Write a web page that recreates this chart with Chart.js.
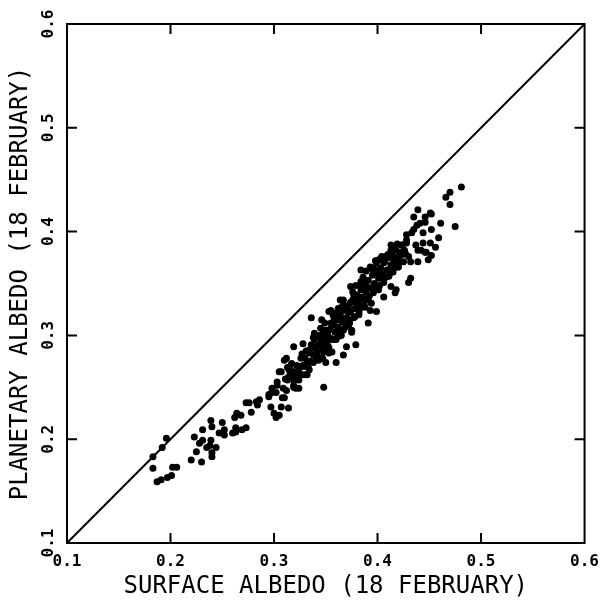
<!DOCTYPE html>
<html>
<head>
<meta charset="utf-8">
<script src="https://cdn.jsdelivr.net/npm/chart.js@4.4.0/dist/chart.umd.min.js"></script>
<style>
  html, body { margin: 0; padding: 0; background: #fff; }
  #wrap { width: 608px; height: 603px; }
</style>
</head>
<body>
<div id="wrap"><canvas id="albedoChart"></canvas></div>
<script>
// Scatter data
const surfaceAlbedo = [
  0.183, 0.183, 0.192, 0.196, 0.187, 0.191, 0.197, 0.202, 0.206, 0.220,
  0.225, 0.228, 0.231, 0.230, 0.235, 0.238, 0.240, 0.244, 0.247, 0.252,
  0.260, 0.263, 0.269, 0.223, 0.240, 0.201,
  0.231, 0.239, 0.239, 0.240, 0.250, 0.252, 0.262, 0.263, 0.268, 0.273,
  0.276, 0.284, 0.278, 0.286, 0.295, 0.297, 0.300, 0.302, 0.307, 0.310,
  0.312, 0.314, 0.303, 0.298, 0.319,
  0.264, 0.273, 0.283, 0.295, 0.298, 0.305, 0.312, 0.314, 0.319, 0.317,
  0.319, 0.321, 0.305,
  0.308, 0.303, 0.307, 0.310, 0.313, 0.319, 0.324, 0.326, 0.329, 0.332,
  0.334, 0.336, 0.338, 0.340, 0.343, 0.348, 0.350, 0.348, 0.345, 0.355,
  0.353, 0.360, 0.356, 0.362, 0.365, 0.370, 0.379, 0.372, 0.367, 0.353,
  0.375, 0.382, 0.388, 0.360, 0.326, 0.302,
  0.346, 0.350, 0.355, 0.361, 0.364, 0.369, 0.374, 0.379, 0.384, 0.385,
  0.388, 0.391, 0.393, 0.396, 0.399, 0.403, 0.406, 0.408, 0.413, 0.413,
  0.418, 0.413, 0.422, 0.423, 0.430, 0.428, 0.435, 0.438, 0.439, 0.446,
  0.444, 0.430, 0.375, 0.372, 0.362, 0.394, 0.401, 0.385, 0.417,
  0.393, 0.401, 0.406, 0.413, 0.420, 0.428, 0.427, 0.433, 0.437, 0.439,
  0.435, 0.441, 0.442, 0.446, 0.444, 0.449, 0.451, 0.452, 0.451, 0.456,
  0.461, 0.459, 0.470, 0.466, 0.470, 0.481, 0.475, 0.432, 0.439, 0.447,
  0.432, 0.446, 0.452, 0.399, 0.417, 0.452,
  0.324, 0.328, 0.330, 0.332, 0.334, 0.336, 0.338, 0.339, 0.341, 0.343,
  0.345, 0.347, 0.349, 0.351, 0.353, 0.355, 0.357, 0.359, 0.361, 0.362,
  0.364, 0.366, 0.368, 0.370, 0.372, 0.374, 0.376, 0.378, 0.380, 0.382,
  0.384, 0.386, 0.388, 0.389, 0.391, 0.393, 0.395, 0.397, 0.399, 0.401,
  0.403, 0.405, 0.407, 0.409, 0.411, 0.413, 0.414, 0.416, 0.418, 0.420,
  0.422, 0.424, 0.426, 0.428,
  0.329, 0.338, 0.348, 0.358, 0.367, 0.377, 0.387, 0.396, 0.406, 0.415,
  0.425, 0.338, 0.348, 0.358, 0.367, 0.377, 0.387, 0.396, 0.406, 0.415,
  0.322, 0.334, 0.343, 0.353, 0.362, 0.372, 0.382, 0.391, 0.401, 0.411,
  0.420, 0.316, 0.313, 0.320, 0.309, 0.324,
  0.331, 0.335, 0.339, 0.342, 0.344, 0.347, 0.349, 0.352, 0.354, 0.356,
  0.358, 0.360, 0.363, 0.365, 0.367, 0.369, 0.371, 0.373, 0.376, 0.378,
  0.381, 0.383, 0.386, 0.388, 0.390, 0.392, 0.395, 0.397, 0.400, 0.402,
  0.404, 0.408, 0.410, 0.412, 0.416, 0.419, 0.424, 0.327, 0.325, 0.321,
  0.318, 0.315, 0.311, 0.328, 0.337, 0.346, 0.357, 0.362, 0.374, 0.379,
  0.384, 0.389, 0.398, 0.368, 0.352, 0.341, 0.333
];
const planetaryAlbedo = [
  0.183, 0.172, 0.192, 0.201, 0.159, 0.161, 0.163, 0.173, 0.173, 0.180,
  0.188, 0.196, 0.199, 0.178, 0.192, 0.194, 0.187, 0.192, 0.206, 0.209,
  0.206, 0.211, 0.209, 0.202, 0.212, 0.165,
  0.209, 0.218, 0.199, 0.183, 0.216, 0.204, 0.221, 0.207, 0.223, 0.211,
  0.235, 0.233, 0.226, 0.238, 0.243, 0.231, 0.225, 0.221, 0.231, 0.240,
  0.247, 0.230, 0.252, 0.249, 0.250,
  0.225, 0.235, 0.236, 0.241, 0.245, 0.265, 0.278, 0.260, 0.289, 0.273,
  0.257, 0.249, 0.223,
  0.240, 0.255, 0.265, 0.276, 0.269, 0.252, 0.249, 0.278, 0.270, 0.262,
  0.283, 0.317, 0.298, 0.289, 0.279, 0.250, 0.274, 0.293, 0.307, 0.312,
  0.323, 0.318, 0.296, 0.302, 0.327, 0.289, 0.291, 0.315, 0.281, 0.283,
  0.303, 0.322, 0.327, 0.274, 0.262, 0.245,
  0.315, 0.305, 0.324, 0.322, 0.334, 0.315, 0.347, 0.331, 0.363, 0.337,
  0.353, 0.312, 0.324, 0.344, 0.370, 0.356, 0.337, 0.376, 0.382, 0.387,
  0.344, 0.347, 0.371, 0.387, 0.376, 0.397, 0.402, 0.406, 0.382, 0.380,
  0.389, 0.351, 0.305, 0.322, 0.308, 0.331, 0.344, 0.347, 0.366,
  0.366, 0.373, 0.370, 0.366, 0.366, 0.392, 0.379, 0.399, 0.387, 0.421,
  0.414, 0.408, 0.382, 0.409, 0.399, 0.373, 0.418, 0.402, 0.389, 0.385,
  0.408, 0.394, 0.426, 0.433, 0.438, 0.443, 0.405, 0.371, 0.371, 0.380,
  0.355, 0.414, 0.417, 0.323, 0.341, 0.377,
  0.265, 0.271, 0.278, 0.274, 0.286, 0.291, 0.281, 0.296, 0.286, 0.291,
  0.297, 0.288, 0.300, 0.294, 0.305, 0.297, 0.310, 0.303, 0.315, 0.307,
  0.320, 0.313, 0.324, 0.317, 0.329, 0.323, 0.334, 0.326, 0.339, 0.331,
  0.344, 0.336, 0.349, 0.342, 0.353, 0.346, 0.358, 0.350, 0.363, 0.355,
  0.365, 0.359, 0.371, 0.363, 0.375, 0.368, 0.377, 0.371, 0.382, 0.375,
  0.380, 0.387, 0.382, 0.389,
  0.262, 0.274, 0.284, 0.296, 0.305, 0.317, 0.329, 0.341, 0.351, 0.361,
  0.371, 0.288, 0.303, 0.317, 0.329, 0.339, 0.351, 0.365, 0.375, 0.384,
  0.271, 0.267, 0.276, 0.288, 0.299, 0.310, 0.320, 0.334, 0.346, 0.357,
  0.366, 0.267, 0.257, 0.262, 0.249, 0.257,
  0.285, 0.275, 0.302, 0.284, 0.300, 0.278, 0.312, 0.290, 0.306, 0.284,
  0.310, 0.296, 0.318, 0.300, 0.334, 0.308, 0.326, 0.312, 0.342, 0.318,
  0.336, 0.326, 0.356, 0.334, 0.346, 0.338, 0.364, 0.348, 0.360, 0.348,
  0.376, 0.356, 0.378, 0.360, 0.376, 0.388, 0.378, 0.282, 0.270, 0.265,
  0.262, 0.266, 0.258, 0.292, 0.290, 0.294, 0.320, 0.326, 0.332, 0.348,
  0.352, 0.362, 0.372, 0.316, 0.300, 0.278, 0.270
];

// 1:1 reference line
const oneToOne = [0.1, 0.6];

// Axis ticks
const tickValues = [0.1, 0.2, 0.3, 0.4, 0.5, 0.6];
const innerTicks = [0.2, 0.3, 0.4, 0.5];

const FONT = "'DejaVu Sans Mono', 'Liberation Mono', monospace";

const points = surfaceAlbedo.map((x, i) => ({ x: x, y: planetaryAlbedo[i] }));
const linePoints = oneToOne.map((v) => ({ x: v, y: v }));

// Frame, inward tick marks and rotated y tick labels
const framePlugin = {
  id: "frame",
  afterDraw(chart) {
    const { ctx, chartArea: a, scales } = chart;
    const len = 10;
    ctx.save();
    ctx.strokeStyle = "#000";
    ctx.lineWidth = 2;
    ctx.strokeRect(a.left, a.top, a.right - a.left, a.bottom - a.top);
    ctx.beginPath();
    innerTicks.forEach((v) => {
      const px = scales.x.getPixelForValue(v);
      ctx.moveTo(px, a.bottom);
      ctx.lineTo(px, a.bottom - len);
      ctx.moveTo(px, a.top);
      ctx.lineTo(px, a.top + len);
      const py = scales.y.getPixelForValue(v);
      ctx.moveTo(a.left, py);
      ctx.lineTo(a.left + len, py);
      ctx.moveTo(a.right, py);
      ctx.lineTo(a.right - len, py);
    });
    ctx.stroke();

    ctx.fillStyle = "#000";
    ctx.font = "bold 16px " + FONT;
    ctx.textAlign = "center";
    ctx.textBaseline = "middle";
    tickValues.forEach((v) => {
      const py = scales.y.getPixelForValue(v);
      ctx.save();
      ctx.translate(a.left - 18, py);
      ctx.rotate(-Math.PI / 2);
      ctx.fillText(v.toFixed(1), 0, 0);
      ctx.restore();
    });
    ctx.restore();
  },
};

const ctx = document.getElementById("albedoChart").getContext("2d");
new Chart(ctx, {
  type: "scatter",
  data: {
    datasets: [
      {
        label: "Albedo",
        data: points,
        backgroundColor: "#000",
        borderColor: "#000",
        pointRadius: 3.5,
        pointHoverRadius: 3.5,
        borderWidth: 0,
      },
      {
        type: "line",
        label: "1:1",
        data: linePoints,
        borderColor: "#000",
        borderWidth: 2,
        pointRadius: 0,
        fill: false,
      },
    ],
  },
  options: {
    responsive: true,
    maintainAspectRatio: false,
    animation: false,
    layout: { padding: { top: 24, right: 21, left: 0, bottom: 0 } },
    plugins: {
      legend: { display: false },
      tooltip: { enabled: false },
    },
    scales: {
      x: {
        type: "linear",
        min: 0.1,
        max: 0.6,
        afterBuildTicks: (s) => {
          s.ticks = tickValues.map((v) => ({ value: v }));
        },
        afterFit: (s) => {
          s.height = 60;
        },
        grid: { display: false, drawTicks: false },
        border: { display: false },
        ticks: {
          color: "#000",
          padding: 9,
          maxRotation: 0,
          font: { family: FONT, size: 16, weight: "bold" },
          callback: (v) => Number(v).toFixed(1),
        },
        title: {
          display: true,
          text: "SURFACE ALBEDO (18 FEBRUARY)",
          color: "#000",
          font: { family: FONT, size: 24 },
          padding: { top: 0, bottom: 2 },
        },
      },
      y: {
        type: "linear",
        min: 0.1,
        max: 0.6,
        afterBuildTicks: (s) => {
          s.ticks = tickValues.map((v) => ({ value: v }));
        },
        afterFit: (s) => {
          s.width = 67;
        },
        grid: { display: false, drawTicks: false },
        border: { display: false },
        ticks: { display: false },
        title: {
          display: true,
          text: "PLANETARY ALBEDO (18 FEBRUARY)",
          color: "#000",
          font: { family: FONT, size: 24 },
          padding: { top: 6, bottom: 0 },
        },
      },
    },
  },
  plugins: [framePlugin],
});
</script>
</body>
</html>
